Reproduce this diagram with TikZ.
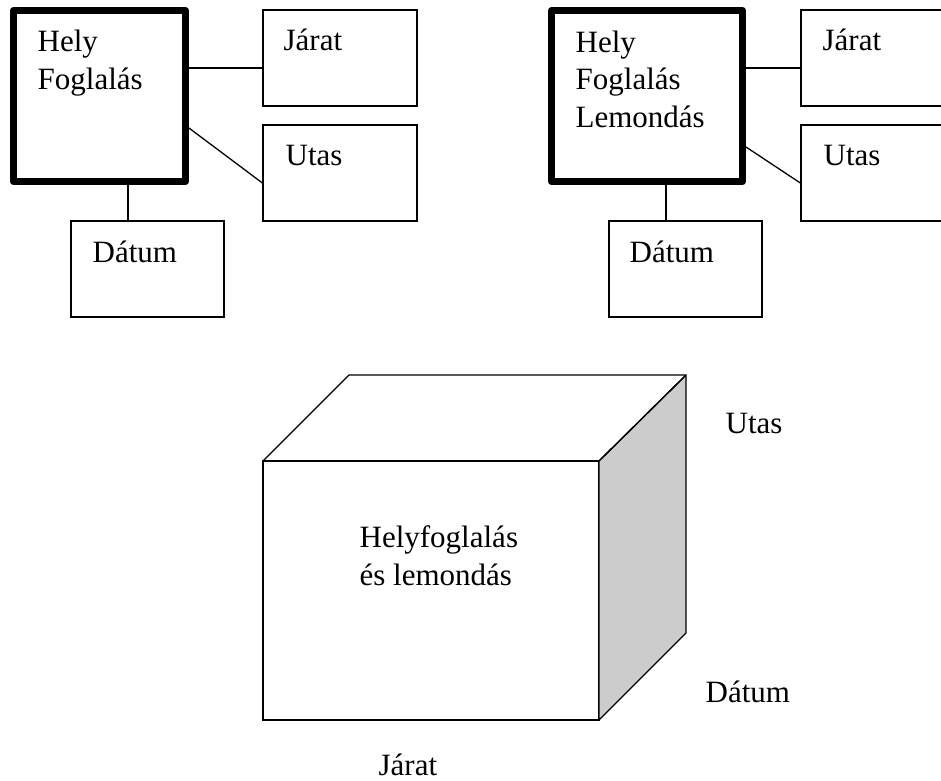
\documentclass[tikz,border=0pt]{standalone}
\usepackage{fontspec}
\setmainfont{Liberation Serif}
\usetikzlibrary{positioning}
\definecolor{sidegray}{RGB}{204,204,204}

\begin{document}
\begin{tikzpicture}[x=1pt,y=-1pt,line width=1.3pt,
  font=\fontsize{31}{37.5}\selectfont,
  dim/.style={draw,minimum width=154pt,minimum height=96pt,inner sep=0pt},
  fact/.style={draw,line width=7pt,line join=round,inner sep=0pt},
  lbl/.style={inner sep=0pt,anchor=base west,align=left}]
\useasboundingbox (0,0) rectangle (941,780);
% helyfoglalás
\node[fact,minimum width=172pt,minimum height=171pt] (hf) at (99.5,96) {};
\node[dim] (jarat1) at (340,58) {};
\node[dim] (utas1) at (340,173) {};
\node[dim,minimum width=153pt] (datum1) at (147.5,269) {};
\node[lbl] (hft) at (37,89) {Hely\\Foglalás};
\node[lbl] (jarat1t) at (283,50) {Járat};
\node[lbl] (utas1t) at (285,165) {Utas};
\node[lbl] (datum1t) at (92,262) {Dátum};
\coordinate (j1) at (0,68);
\coordinate (u1a) at (0,128);
\coordinate (u1b) at (0,183);
\coordinate (d1) at (128,0);
\draw (hf.east |- j1) -- (jarat1.west |- j1);
\draw (hf.east |- u1a) -- (utas1.west |- u1b);
\draw (hf.south -| d1) -- (datum1.north -| d1);
% helyfoglalás és lemondás
\node[fact,minimum width=191pt,minimum height=171pt] (hfl) at (647,96) {};
\node[dim] (jarat2) at (878,58) {};
\node[dim] (utas2) at (878,173) {};
\node[dim,minimum width=153pt] (datum2) at (685.5,269) {};
\node[lbl] (hflt) at (575,127) {Hely\\Foglalás\\Lemondás};
\node[lbl] (jarat2t) at (822,50) {Járat};
\node[lbl] (utas2t) at (823,165) {Utas};
\node[lbl] (datum2t) at (629,262) {Dátum};
\coordinate (j2) at (0,68);
\coordinate (u2a) at (0,147);
\coordinate (u2b) at (0,183);
\coordinate (d2) at (666,0);
\draw (hfl.east |- j2) -- (jarat2.west |- j2);
\draw (hfl.east |- u2a) -- (utas2.west |- u2b);
\draw (hfl.south -| d2) -- (datum2.north -| d2);
% kocka
\node[draw,outer sep=0pt,inner sep=0pt,minimum width=336pt,minimum height=259pt] (front) at (431,590.5) {};
\draw[fill=sidegray,line join=round] (front.north east) -- ++(87,-86) -- ++(0,258) -- (front.south east) -- cycle;
\draw[line join=round] (front.north west) -- ++(86,-86) -- ++(337,0) -- (front.north east);
\node[lbl] (cubet) at (359,585) {Helyfoglalás\\és lemondás};
\node[lbl] (utas3) at (725,433) {Utas};
\node[lbl] (datum3) at (705,702) {Dátum};
\node[lbl] (jarat3) at (378,775) {Járat};
\end{tikzpicture}
\end{document}
